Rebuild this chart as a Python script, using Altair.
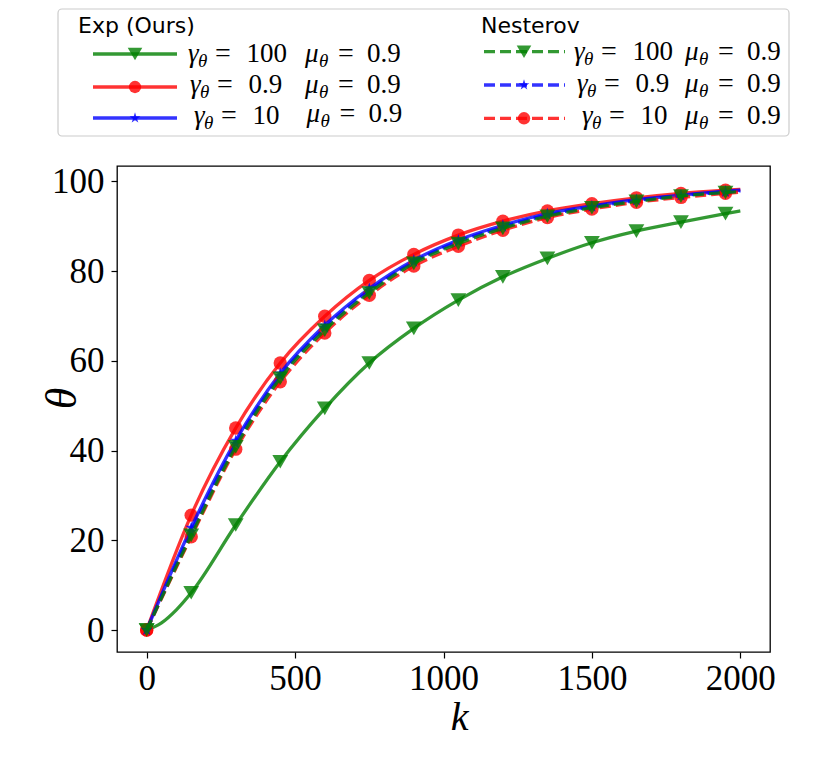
import altair as alt
import pandas as pd

# ---------------- data ----------------
K_MARKERS = [0, 150, 300, 450, 600, 750, 900, 1050, 1200, 1350, 1500, 1650, 1800, 1950]
K_END = 2000

EXP_G100 = [0, 8.3, 23.4, 37.5, 49.4, 59.5, 67.2, 73.5, 78.7, 82.8, 86.3, 88.9, 90.9, 92.8]
EXP_G100_END = 93.4
EXP_G100_EARLY_K = [50, 100]
EXP_G100_EARLY = [1.6, 4.5]

EXP_G09 = [0, 25.6, 45.0, 59.5, 69.9, 77.9, 83.7, 88.0, 91.1, 93.4, 95.0, 96.3, 97.3, 98.0]
EXP_G09_END = 98.2
EXP_G10 = [0, 22.8, 42.2, 57.2, 67.9, 76.1, 82.4, 86.9, 90.2, 92.8, 94.5, 95.9, 96.9, 97.8]
EXP_G10_END = 98.0

NES_G100 = [0, 21.1, 40.8, 56.1, 66.8, 75.1, 81.7, 86.1, 89.5, 92.2, 94.1, 95.5, 96.7, 97.5]
NES_G100_END = 97.7
NES_G09 = [0, 21.9, 41.5, 56.6, 67.3, 75.6, 82.0, 86.5, 89.8, 92.5, 94.3, 95.7, 96.8, 97.6]
NES_G09_END = 97.8
NES_G10 = [0, 20.8, 40.3, 55.3, 66.2, 74.6, 81.1, 85.5, 89.1, 91.9, 93.8, 95.3, 96.4, 97.3]
NES_G10_END = 97.6

GAMMA_LABELS = ["100", "0.9", "10"]
MU_LABEL = "0.9"
GROUP_TITLES = ["Exp (Ours)", "Nesterov"]
X_TICKS = [0, 500, 1000, 1500, 2000]
Y_TICKS = [0, 20, 40, 60, 80, 100]

GREEN, RED, BLUE = "#008000", "#ff0000", "#0000ff"
SERIF = "Liberation Serif, serif"
SANS = "DejaVu Sans"
OX, OY = 117, 166  # plot origin on page

STAR = ("M0,-1L0.225,-0.309L0.951,-0.309L0.363,0.118L0.588,0.809L0,0.382"
        "L-0.588,0.809L-0.363,0.118L-0.951,-0.309L-0.225,-0.309Z")

series = [
    dict(vals=EXP_G100, end=EXP_G100_END, color=GREEN, dash=None, shape="triangle-down", size=250,
         extra_k=EXP_G100_EARLY_K, extra_v=EXP_G100_EARLY),
    dict(vals=EXP_G09, end=EXP_G09_END, color=RED, dash=None, shape="circle", size=180),
    dict(vals=EXP_G10, end=EXP_G10_END, color=BLUE, dash=None, shape=STAR, size=150),
    dict(vals=NES_G10, end=NES_G10_END, color=RED, dash=[11, 5], shape="circle", size=180),
    dict(vals=NES_G09, end=NES_G09_END, color=BLUE, dash=[11, 5], shape=STAR, size=150),
    dict(vals=NES_G100, end=NES_G100_END, color=GREEN, dash=[11, 5], shape="triangle-down", size=250),
]

xscale = alt.Scale(domain=[-100, 2100], nice=False, zero=False)
yscale = alt.Scale(domain=[-4.9, 103.4], nice=False, zero=False)

x_enc = alt.X("k:Q", scale=xscale, axis=alt.Axis(
    orient="bottom",
    values=X_TICKS, format="d", grid=False, domain=False, ticks=True, tickSize=6, tickWidth=1.2,
    tickColor="black", labelColor="black", labelFont=SERIF, labelFontSize=35, labelPadding=3,
    labelFlush=False, labelOverlap=False, title="k", titleFont=SERIF, titleFontStyle="italic",
    titleFontWeight="normal", titleFontSize=40, titleColor="black", titleX=342, titleY=77,
    titleBaseline="alphabetic"))
y_enc = alt.Y("theta:Q", scale=yscale, axis=alt.Axis(
    orient="left",
    values=Y_TICKS, format="d", grid=False, domain=False, ticks=True, tickSize=6, tickWidth=1.2,
    tickColor="black", labelColor="black", labelFont=SERIF, labelFontSize=35, labelPadding=7,
    labelFlush=False, labelOverlap=False, title="θ", titleFont=SERIF, titleFontStyle="italic",
    titleFontWeight="normal", titleFontSize=44, titleColor="black", titleX=-42, titleY=232,
    titleAngle=270, titleBaseline="alphabetic"))

layers = []
for s in series:
    ks = list(K_MARKERS) + [K_END]
    vs = list(s["vals"]) + [s["end"]]
    if "extra_k" in s:
        ks = ks + s["extra_k"]
        vs = vs + s["extra_v"]
    line_df = pd.DataFrame({"k": ks, "theta": vs}).sort_values("k")
    pt_df = pd.DataFrame({"k": K_MARKERS, "theta": s["vals"]})
    lkw = dict(interpolate="monotone", strokeWidth=3.3, opacity=0.8, color=s["color"])
    if s["dash"]:
        lkw["strokeDash"] = s["dash"]
    layers.append(alt.Chart(line_df).mark_line(**lkw).encode(x=x_enc, y=y_enc))
    layers.append(alt.Chart(pt_df).mark_point(shape=s["shape"], filled=True, size=s["size"],
                                              opacity=0.8, color=s["color"], strokeWidth=0)
                  .encode(x=x_enc, y=y_enc))

# ---------------- legend (drawn as marks) ----------------
one = pd.DataFrame({"d": [0]})


def px(v):
    return v - OX


def py(v):
    return v - OY


layers.append(alt.Chart(one).mark_rect(fill="white", stroke="#cccccc", strokeWidth=1.2,
                                       cornerRadius=4).encode(
    x=alt.value(px(58)), x2=alt.value(px(789)), y=alt.value(py(9)), y2=alt.value(py(136))))


def text(x, y, t, size, italic=False, font=SERIF, align="left"):
    kw = dict(x=px(x), y=py(y), text=t, font=font, fontSize=size, align=align,
              baseline="alphabetic", color="black")
    if italic:
        kw["fontStyle"] = "italic"
    layers.append(alt.Chart(one).mark_text(**kw).encode(opacity=alt.value(1)))


text(78, 33, GROUP_TITLES[0], 22, font=SANS)
text(481, 33, GROUP_TITLES[1], 22, font=SANS)

groups = [
    dict(x1=93, x2=177, mx=135, line_y=[54, 87, 118], base=[61.7, 93.3, 124.3],
         gx=[188, 190, 194], mux=[305, 305, 306.5], mub=[61.7, 93.3, 121.7],
         items=[series[0], series[1], series[2]]),
    dict(x1=484, x2=565, mx=524, line_y=[51.7, 85, 118.3], base=[59.5, 91.5, 123.5],
         gx=[574, 577, 582], mux=[685, 685, 685], mub=[59.5, 91.5, 123.5],
         items=[series[5], series[4], series[3]]),
]

for g in groups:
    for i, s in enumerate(g["items"]):
        ly = g["line_y"][i]
        rkw = dict(color=s["color"], strokeWidth=3.3, opacity=0.8)
        if s["dash"]:
            rkw["strokeDash"] = s["dash"]
        layers.append(alt.Chart(one).mark_rule(**rkw).encode(
            x=alt.value(px(g["x1"])), x2=alt.value(px(g["x2"])), y=alt.value(py(ly))))
        layers.append(alt.Chart(one).mark_point(shape=s["shape"], filled=True, size=s["size"] * 0.85,
                                                opacity=0.8, color=s["color"], strokeWidth=0).encode(
            x=alt.value(px(g["mx"])), y=alt.value(py(ly))))
        b = g["base"][i]
        x0 = g["gx"][i]
        text(x0, b, "γ", 27, italic=True)
        text(x0 + 10, b + 5, "θ", 19, italic=True)
        text(x0 + 35, b, "=", 28, align="center")
        text(x0 + 58.5, b, GAMMA_LABELS[i], 27)
        mb = g["mub"][i]
        mx = g["mux"][i]
        text(mx, mb, "μ", 27, italic=True)
        text(mx + 14, mb + 5, "θ", 19, italic=True)
        text(mx + 41, mb, "=", 28, align="center")
        text(mx + 62, mb, MU_LABEL, 27)

chart = alt.layer(*layers).properties(
    width=653, height=486,
    autosize=alt.AutoSizeParams(type="none"),
    padding={"left": 109, "top": 158, "right": 52, "bottom": 102},
).configure_view(stroke="black", strokeWidth=1.3)

chart.save("out.html", embed_options={"renderer": "svg", "actions": False})
